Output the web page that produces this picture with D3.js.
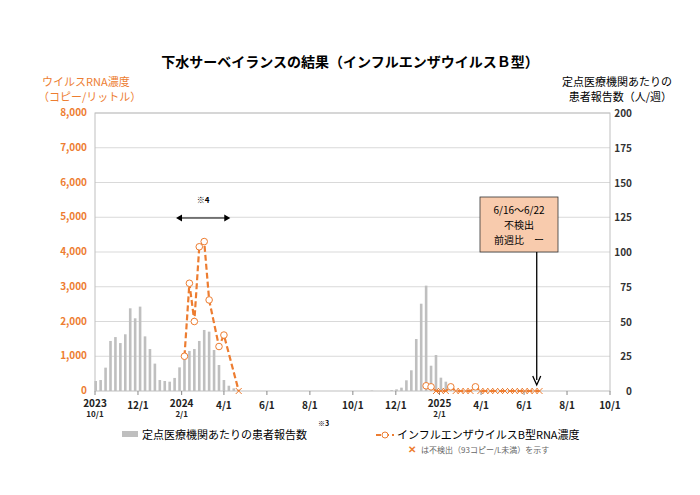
<!DOCTYPE html>
<html><head><meta charset="utf-8">
<script src="https://cdn.jsdelivr.net/npm/d3@7"></script>
<style>body{margin:0;background:#fff;font-family:"Noto Sans CJK JP","Noto Sans",sans-serif}</style>
</head><body><main></main>
<script>
// weekly patient counts (right axis), by week start
const season1Start = '2023-10-02'
const season1Patients = [7.2,7.9,16.8,36,38.8,34.5,40.8,59.5,52.3,60.7,39.3,30.2,19.7,7.9,7.2,6.7,9.4,17,23.5,28.8,30.2,36,43.9,42.7,29.5,18.7,7.9,3.8,1.9,0.6]
const season2Start = '2024-10-28'
const season2Patients = [0.3,0,0,0,0.6,1.2,2.4,7.7,14.9,37.4,62.8,75.8,18.2,25.9,9.6,6.7,1.5]

// RNA concentration (left axis); null = missing week, 0 = not detected
const rna1Start = '2024-02-05'
const rna1Values = [1000,3100,2000,4150,4300,2620,null,1280,1610,null,null,0]
const rna2Start = '2025-01-13'
const rna2Values = [150,120,0,0,0,120,0,0,0,0,120,0,0,0,0,0,0,0,0,0,0,0,0,0]

const leftTicks = [0,1000,2000,3000,4000,5000,6000,7000,8000]
const rightTicks = [0,25,50,75,100,125,150,175,200]
const xTicks = [['2023-10-01','2023','10/1'],['2023-12-01','12/1'],['2024-02-01','2024','2/1'],['2024-04-01','4/1'],['2024-06-01','6/1'],['2024-08-01','8/1'],['2024-10-01','10/1'],['2024-12-01','12/1'],['2025-02-01','2025','2/1'],['2025-04-01','4/1'],['2025-06-01','6/1'],['2025-08-01','8/1'],['2025-10-01','10/1']]

const orange = '#ed7d31', bar = '#bfbfbf'
const W = 700, H = 495, L = 95, R = 610, T = 113, B = 391
const svg = d3.select('main').append('svg').attr('width',W).attr('height',H)
const pd = d3.utcParse('%Y-%m-%d')
const x = d3.scaleUtc().domain([pd('2023-10-01'),pd('2025-10-01')]).range([L,R])
const yL = d3.scaleLinear().domain([0,8000]).range([B,T])
const yR = d3.scaleLinear().domain([0,200]).range([B,T])
const week = (s,i) => d3.utcDay.offset(pd(s), 7*i)

// grid
svg.append('g').selectAll('line').data(leftTicks.slice(1)).join('line')
  .attr('x1',L).attr('x2',R).attr('y1',d=>yL(d)).attr('y2',d=>yL(d)).attr('stroke','#d9d9d9')
svg.append('rect').attr('x',L).attr('y',T).attr('width',R-L).attr('height',B-T).attr('fill','none').attr('stroke','#bfbfbf')

// bars
const bars = season1Patients.map((v,i)=>({d:week(season1Start,i),v}))
  .concat(season2Patients.map((v,i)=>({d:week(season2Start,i),v})))
svg.append('g').selectAll('rect').data(bars).join('rect')
  .attr('x',d=>x(d.d)-1.3).attr('width',2.6)
  .attr('y',d=>yR(d.v)).attr('height',d=>B-yR(d.v)).attr('fill',bar)

// axes
const ax = svg.append('g').attr('font-size',10).attr('font-weight','bold')
ax.selectAll('.l').data(leftTicks).join('text').attr('x',L-8).attr('y',d=>yL(d)+3)
  .attr('text-anchor','end').attr('fill',orange).text(d3.format(','))
ax.selectAll('.r').data(rightTicks).join('text').attr('x',R+22).attr('y',d=>yR(d)+4)
  .attr('text-anchor','end').attr('fill','#333').text(d=>d)
xTicks.forEach(t=>{
  const xx = x(pd(t[0]))
  svg.append('line').attr('x1',xx).attr('x2',xx).attr('y1',B).attr('y2',B+4).attr('stroke','#888')
  const tx = ax.append('text').attr('x',xx).attr('text-anchor','middle').attr('fill','#222')
  if(t.length===3){
    tx.attr('y',B+16).text(t[1])
    ax.append('text').attr('x',xx).attr('y',B+26).attr('text-anchor','middle').attr('font-size',8).attr('fill','#222').text(t[2])
  } else tx.attr('y',B+18).text(t[1])
})

// RNA lines
function rna(start, vals){
  const pts = vals.map((v,i)=>({d:week(start,i),v})).filter(p=>p.v!==null)
  svg.append('path').datum(pts).attr('fill','none').attr('stroke',orange).attr('stroke-width',2.2)
    .attr('stroke-dasharray','6,3').attr('d',d3.line().x(p=>x(p.d)).y(p=>yL(p.v)))
  pts.forEach(p=>{
    const cx = x(p.d), cy = yL(p.v)
    if(p.v>0) svg.append('circle').attr('cx',cx).attr('cy',cy).attr('r',3.3).attr('fill','#fff').attr('stroke',orange)
    else svg.append('path').attr('d',`M${cx-3},${cy-3}L${cx+3},${cy+3}M${cx-3},${cy+3}L${cx+3},${cy-3}`).attr('stroke',orange).attr('stroke-width',1)
  })
}
rna(rna1Start, rna1Values)
rna(rna2Start, rna2Values)

// titles
svg.append('text').attr('x',350).attr('y',67).attr('text-anchor','middle').attr('font-size',14).attr('font-weight','bold').text('下水サーベイランスの結果（インフルエンザウイルスＢ型）')
svg.append('text').attr('x',42).attr('y',86).attr('font-size',11).attr('fill',orange).text('ウイルスRNA濃度')
svg.append('text').attr('x',38).attr('y',101).attr('font-size',11).attr('fill',orange).text('（コピー/リットル）')
svg.append('text').attr('x',672).attr('y',86).attr('text-anchor','end').attr('font-size',11).text('定点医療機関あたりの')
svg.append('text').attr('x',672).attr('y',101).attr('text-anchor','end').attr('font-size',11).text('患者報告数（人/週）')

// ※4 arrow
const ay = 218, ax1 = x(pd('2024-01-24')), ax2 = x(pd('2024-04-10'))
svg.append('line').attr('x1',ax1+4).attr('x2',ax2-4).attr('y1',ay).attr('y2',ay).attr('stroke','#000').attr('stroke-width',1.2)
svg.append('path').attr('d',`M${ax1},${ay}l6,-3.5v7z M${ax2},${ay}l-6,-3.5v7z`).attr('fill','#000')
svg.append('text').attr('x',(ax1+ax2)/2).attr('y',203).attr('text-anchor','middle').attr('font-size',8).attr('font-weight','bold').text('※4')

// callout box
const bx = x(pd('2025-06-19'))
svg.append('rect').attr('x',480).attr('y',197).attr('width',78).attr('height',55).attr('fill','#f8cbad').attr('stroke','#333').attr('stroke-width',0.8)
;[['6/16～6/22',214],['不検出',229],['前週比　ー',244]].forEach(t=>
  svg.append('text').attr('x',519).attr('y',t[1]).attr('text-anchor','middle').attr('font-size',10).text(t[0]))
svg.append('line').attr('x1',bx).attr('x2',bx).attr('y1',252).attr('y2',380).attr('stroke','#000').attr('stroke-width',1.3)
svg.append('path').attr('d',`M${bx-4},${376}L${bx},${385}L${bx+4},${376}`).attr('fill','none').attr('stroke','#000').attr('stroke-width',1.3)

// legend
svg.append('rect').attr('x',122).attr('y',431).attr('width',16).attr('height',6).attr('fill',bar)
svg.append('text').attr('x',142).attr('y',439).attr('font-size',11).text('定点医療機関あたりの患者報告数')
svg.append('text').attr('x',318).attr('y',426).attr('font-size',7).attr('font-weight','bold').text('※3')
svg.append('line').attr('x1',376).attr('x2',394).attr('y1',435).attr('y2',435).attr('stroke',orange).attr('stroke-width',2.2).attr('stroke-dasharray','5,3')
svg.append('circle').attr('cx',385).attr('cy',435).attr('r',3).attr('fill','#fff').attr('stroke',orange)
svg.append('text').attr('x',397).attr('y',439).attr('font-size',11).text('インフルエンザウイルスB型RNA濃度')
svg.append('text').attr('x',408).attr('y',453).attr('font-size',10).attr('fill',orange).attr('font-weight','bold').text('✕')
svg.append('text').attr('x',421).attr('y',453).attr('font-size',8).attr('fill','#666').text('は不検出（93コピー/L未満）を示す')
</script></body></html>
